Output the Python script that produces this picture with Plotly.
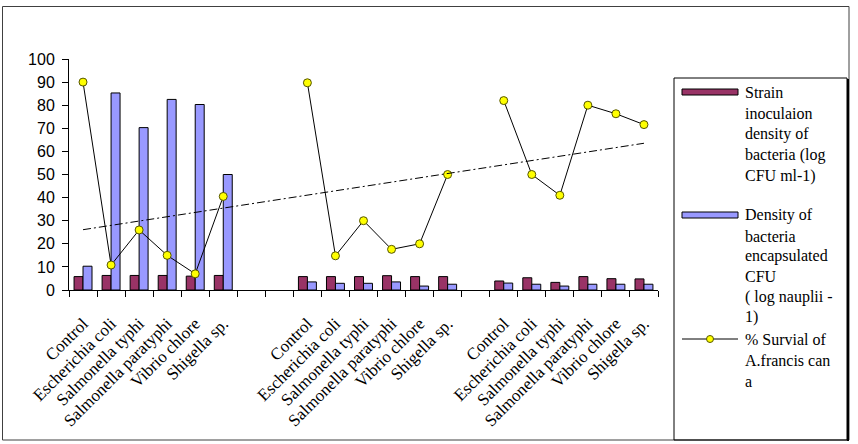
import numpy as np
import plotly.graph_objects as go

# ---------------- data ----------------
group_labels = ["Control", "Escherichia coli", "Salmonella typhi",
                "Salmonella paratyphi", "Vibrio chlore", "Shigella sp."]
# 21 category slots: group1, 2 blanks, group2, 1 blank, group3
categories = group_labels + ["", ""] + group_labels + [""] + group_labels

strain_density = [5.8, 6.3, 6.3, 6.3, 6.0, 6.3, None, None,
                  5.8, 5.8, 5.8, 6.2, 5.8, 5.8, None,
                  3.9, 5.3, 3.3, 5.8, 4.9, 4.8]
encapsulated_density = [10.3, 85.3, 70.3, 82.5, 80.3, 50.0, None, None,
                        3.5, 2.9, 2.9, 3.5, 1.7, 2.5, None,
                        3.0, 2.5, 1.7, 2.5, 2.5, 2.5]
survival = [90, 10.8, 26, 15, 7, 40.5, None, None,
            89.7, 14.8, 30, 17.6, 20, 50, None,
            82, 50, 41, 80, 76.3, 71.6]

y_ticks = [0, 10, 20, 30, 40, 50, 60, 70, 80, 90, 100]

legend_texts = [
    ["Strain", "inoculaion", "density of", "bacteria (log", "CFU ml-1)"],
    ["Density of", "bacteria", "encapsulated", "CFU", "( log nauplii -", "1)"],
    ["% Survial of", "A.francis can", "a"],
]

# ---------------- styling ----------------
MAROON = "#993366"
BLUE = "#9999FF"
W_PX, H_PX = 858, 444
L, R, T, B = 69, 658, 59, 290


def px(x):
    return (x - L) / (R - L)


def py(y):
    return (B - y) / (B - T)


x_idx = list(range(len(categories)))

fig = go.Figure()
fig.add_trace(go.Bar(x=x_idx, y=strain_density, marker=dict(color=MAROON, line=dict(color="black", width=1)),
                     showlegend=False))
fig.add_trace(go.Bar(x=x_idx, y=encapsulated_density, marker=dict(color=BLUE, line=dict(color="black", width=1)),
                     showlegend=False))
fig.add_trace(go.Scatter(x=x_idx, y=survival, mode="lines+markers", connectgaps=False,
                         line=dict(color="black", width=1),
                         marker=dict(size=8, color="#FFFF00", line=dict(color="#555500", width=1)),
                         showlegend=False))

# linear trendline of survival series (Excel-like)
xs = np.array([i for i, v in zip(x_idx, survival) if v is not None], dtype=float)
ys = np.array([v for v in survival if v is not None], dtype=float)
slope, intercept = np.polyfit(xs, ys, 1)
tx = [x_idx[0], x_idx[-1]]
fig.add_trace(go.Scatter(x=tx, y=[intercept + slope * t for t in tx], mode="lines",
                         line=dict(color="black", width=1, dash="8px,3px,2px,3px"),
                         showlegend=False, hoverinfo="skip"))

tick_pos = [i for i, c in enumerate(categories) if c]
tick_txt = [c for c in categories if c]

shapes = []
# chart area border
shapes.append(dict(type="rect", xref="paper", yref="paper", x0=px(2.5), x1=px(849), y0=py(6.5), y1=py(440),
                   line=dict(color="#404040", width=1), layer="below"))
# legend box
shapes.append(dict(type="rect", xref="paper", yref="paper", x0=px(674), x1=px(847), y0=py(78), y1=py(440),
                   line=dict(color="black", width=1)))
shapes.append(dict(type="line", xref="paper", yref="paper", x0=px(848), x1=px(848), y0=py(79), y1=py(441),
                   line=dict(color="black", width=2)))
# legend symbols
shapes.append(dict(type="rect", xref="paper", yref="paper", x0=px(682), x1=px(738), y0=py(89), y1=py(95),
                   fillcolor=MAROON, line=dict(color="black", width=1)))
shapes.append(dict(type="rect", xref="paper", yref="paper", x0=px(682), x1=px(738), y0=py(212), y1=py(218),
                   fillcolor=BLUE, line=dict(color="black", width=1)))
shapes.append(dict(type="line", xref="paper", yref="paper", x0=px(682), x1=px(738), y0=py(339), y1=py(339),
                   line=dict(color="black", width=1)))
shapes.append(dict(type="circle", xref="paper", yref="paper", x0=px(706.5), x1=px(713.5), y0=py(335.5),
                   y1=py(342.5), fillcolor="#FFFF00", line=dict(color="#555500", width=1)))

annotations = []
line_y = [[92, 113, 134, 155, 176], [215, 236, 256, 276, 297, 317], [339, 360, 381]]
for block, ys_ in zip(legend_texts, line_y):
    for txt, yy in zip(block, ys_):
        annotations.append(dict(text=txt, xref="paper", yref="paper", x=px(743), y=py(yy),
                                xanchor="left", yanchor="middle", showarrow=False,
                                font=dict(family="Liberation Serif", size=16, color="black")))

fig.update_layout(
    width=W_PX, height=H_PX,
    margin=dict(l=L, r=W_PX - R, t=T, b=H_PX - B, pad=0),
    paper_bgcolor="white", plot_bgcolor="white",
    barmode="group", bargap=0.36, bargroupgap=0,
    shapes=shapes, annotations=annotations, showlegend=False,
    xaxis=dict(range=[-0.5, len(categories) - 0.5], tickmode="array", tickvals=tick_pos, ticktext=tick_txt,
               tickangle=-45, ticks="", showline=True, linecolor="black", linewidth=1,
               showgrid=False, zeroline=False, ticklabelstandoff=16,
               tickfont=dict(family="Liberation Serif", size=17, color="black"),
               minor=dict(tickmode="array", tickvals=[i - 0.5 for i in range(len(categories) + 1)],
                          ticks="outside", ticklen=6, tickcolor="black", tickwidth=1, showgrid=False)),
    yaxis=dict(range=[0, 100], tickmode="array", tickvals=y_ticks, ticks="outside", ticklen=6,
               tickcolor="black", showline=True, linecolor="black", linewidth=1,
               showgrid=False, zeroline=False, ticklabelstandoff=4,
               tickfont=dict(family="Liberation Sans", size=16, color="black")),
)

fig.write_html("out.html")
